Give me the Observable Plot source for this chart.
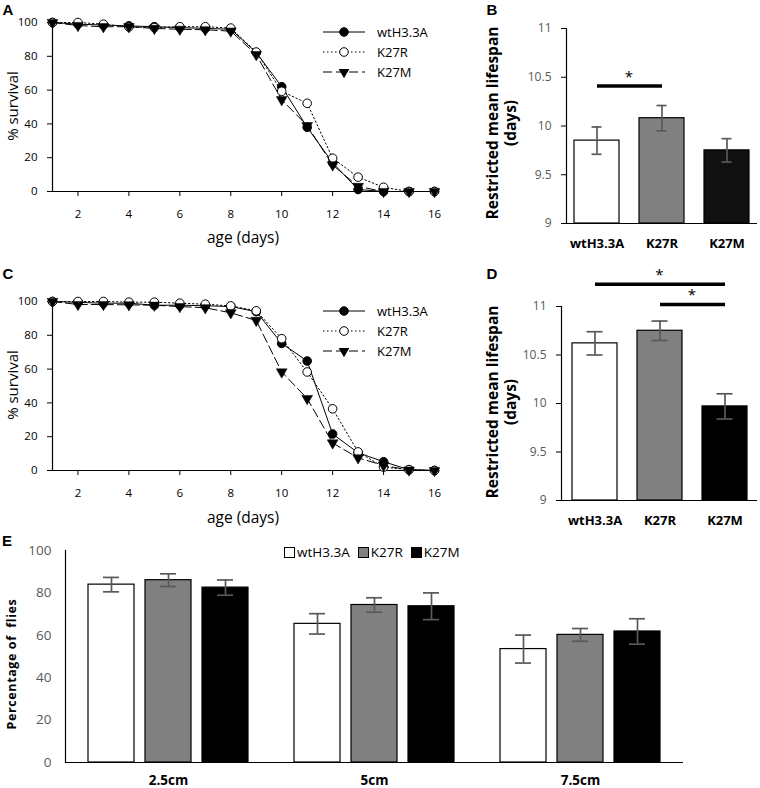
<!DOCTYPE html>
<html>
<head>
<meta charset="utf-8">
<script src="https://cdn.jsdelivr.net/npm/d3@7"></script>
<script src="https://cdn.jsdelivr.net/npm/@observablehq/plot@0.6"></script>
<style>
  html, body { margin: 0; padding: 0; background: #fff; }
  #root { position: relative; width: 760px; height: 788px; overflow: hidden; background: #fff; font-family: "Open Sans", sans-serif; color: #000; }
  .panel { position: absolute; }
  .panel svg { overflow: visible; display: block; }
  .ttl { position: absolute; white-space: nowrap; line-height: 1; transform: translate(-50%, -50%); }
  .rot { transform: translate(-50%, -50%) rotate(-90deg); }
  .plab { font-family: "Liberation Sans", Arial, sans-serif; font-weight: bold; font-size: 15px; }
  .elegend { position: absolute; left: 284px; top: 546px; display: flex; align-items: center; font-size: 13.5px; line-height: 1; }
  .elegend .sw { width: 9px; height: 9px; border: 1px solid #000; margin-right: 2px; }
  .elegend .it { display: flex; align-items: center; margin-right: 8px; }
</style>
</head>
<body>
<div id="root"></div>
<script>
// ---------------- data ----------------
const days = [1, 2, 3, 4, 5, 6, 7, 8, 9, 10, 11, 12, 13, 14, 15, 16];
const dayTicks = [2, 4, 6, 8, 10, 12, 14, 16];
const pctTicks = [0, 20, 40, 60, 80, 100];
const genotypes = ["wtH3.3A", "K27R", "K27M"];

// Panel A: % survival
const A_wt   = [100, 99, 98.5, 98, 97.5, 97, 96.5, 96, 82.3, 62, 38, 17, 1.2, 0, 0, 0];
const A_K27R = [100, 100, 99, 97.4, 97, 97.5, 97.5, 96.7, 82.5, 59.3, 52.2, 19.7, 8.5, 2.5, 0, 0];
const A_K27M = [100, 98.2, 97.5, 97.5, 96.5, 96, 95.7, 94.9, 81, 54.3, 39, 15.7, 3, 0, 0, 0];

// Panel C: % survival
const C_wt   = [100, 99.5, 99, 99, 97.8, 97.8, 97.5, 97, 94, 75.2, 64.8, 21.6, 10.5, 5.2, 0.5, 0];
const C_K27R = [100, 100, 100, 99.6, 99.6, 99, 98.4, 97.4, 94.5, 78, 58.3, 36.5, 11, 2, 0.5, 0];
const C_K27M = [100, 98.2, 98.2, 98, 97.8, 97, 96.3, 93.3, 88.8, 58.3, 42.6, 16.3, 7.5, 3, 0.3, 0];

// Panel B: restricted mean lifespan (days)
const B_mean = [9.85, 10.08, 9.75];
const B_err  = [0.14, 0.13, 0.12];
const B_sig  = [{from: "wtH3.3A", to: "K27R", y: 10.41, mark: "*"}];

// Panel D: restricted mean lifespan (days)
const D_mean = [10.62, 10.75, 9.97];
const D_err  = [0.12, 0.10, 0.13];
const D_sig  = [
  {from: "wtH3.3A", to: "K27M", y: 11.23, mark: "*"},
  {from: "K27R", to: "K27M", y: 11.02, mark: "*"}
];
const lifespanTicks = [9, 9.5, 10, 10.5, 11];

// Panel E: percentage of flies climbing
const distances = ["2.5cm", "5cm", "7.5cm"];
const E_wt   = [83.9, 65.4, 53.5];
const E_K27R = [86.0, 74.3, 60.2];
const E_K27M = [82.5, 73.7, 61.8];
const E_err_wt   = [3.4, 4.8, 6.6];
const E_err_K27R = [3.0, 3.4, 3.0];
const E_err_K27M = [3.6, 6.3, 6.0];

// ---------------- helpers ----------------
const root = document.getElementById("root");
function place(node, left, top) {
  const w = document.createElement("div");
  w.className = "panel";
  w.style.left = left + "px";
  w.style.top = top + "px";
  w.appendChild(node);
  root.appendChild(w);
}
function label(html, x, y, cls, css) {
  const d = document.createElement("div");
  d.className = "ttl " + (cls || "");
  d.innerHTML = html;
  d.style.left = x + "px";
  d.style.top = y + "px";
  Object.assign(d.style, css || {});
  root.appendChild(d);
  return d;
}
const baseStyle = {fontFamily: '"Open Sans", sans-serif', fontSize: "11.5px", color: "#000", background: "transparent", overflow: "visible"};

const seriesStyle = {
  "wtH3.3A": {dash: undefined, symbol: "circle", fill: "#000"},
  "K27R":    {dash: "1.5,2.5", symbol: "circle", fill: "#fff"},
  "K27M":    {dash: "9,4", symbol: "triangle", fill: "#000"}
};

function survivalPlot(series) {
  const marks = [
    Plot.ruleY([0], {stroke: "#000", strokeWidth: 1.2}),
    Plot.ruleX([1], {y1: 0, y2: 100, stroke: "#000", strokeWidth: 1.2}),
    Plot.axisX({ticks: dayTicks, tickSize: 5, tickPadding: 13, label: null, tickFormat: d => d}),
    Plot.axisY({ticks: pctTicks, tickSize: 5, tickPadding: 10, label: null})
  ];
  for (const [name, vals] of series) {
    const rows = days.map((d, i) => ({day: d, v: vals[i]}));
    const st = seriesStyle[name];
    marks.push(Plot.line(rows, {x: "day", y: "v", stroke: "#000", strokeWidth: 1, strokeDasharray: st.dash}));
    if (st.symbol === "triangle") {
      marks.push(Plot.dot(rows, {x: "day", y: "v", symbol: "triangle", rotate: 180, r: 4, fill: "#000", stroke: "#000", strokeWidth: 0.5}));
    } else {
      marks.push(Plot.dot(rows, {x: "day", y: "v", r: 4.3, fill: st.fill, stroke: "#000", strokeWidth: 1}));
    }
  }
  const p = Plot.plot({
    width: 460, height: 250,
    marginLeft: 52, marginRight: 26, marginTop: 22, marginBottom: 59,
    x: {domain: [1, 16]}, y: {domain: [0, 100]},
    style: baseStyle,
    marks
  });
  return p;
}
function survivalLegend(p, series, y0) {
  const g = d3.select(p).append("g").attr("font-size", 13).attr("font-family", '"Open Sans", sans-serif')
    .attr("text-anchor", "start");
  series.forEach(([name], i) => {
    const st = seriesStyle[name];
    const y = y0 + 20 * i;
    g.append("line").attr("x1", 323).attr("x2", 365).attr("y1", y).attr("y2", y)
      .attr("stroke", "#000").attr("stroke-width", 1).attr("stroke-dasharray", st.dash || null);
    if (st.symbol === "triangle") {
      g.append("path").attr("d", d3.symbol(d3.symbolTriangle, 50)()).attr("transform", `translate(344,${y}) rotate(180)`).attr("fill", "#000");
    } else {
      g.append("circle").attr("cx", 344).attr("cy", y).attr("r", 4.3).attr("fill", st.fill).attr("stroke", "#000");
    }
    g.append("text").attr("x", 377).attr("y", y).attr("dy", "0.35em").attr("text-anchor", "start").text(name);
  });
}

function barPanel({mean, err, sig, fills, width, height, mL, mR, mT, mB, padIn, padOut, capInset}) {
  const df = genotypes.map((g, i) => ({g, m: mean[i], e: err[i]}));
  const p = Plot.plot({
    width, height, marginLeft: mL, marginRight: mR, marginTop: mT, marginBottom: mB,
    x: {domain: genotypes, paddingInner: padIn, paddingOuter: padOut},
    y: {domain: [9, 11]},
    color: {domain: genotypes, range: fills},
    style: baseStyle,
    marks: [
      Plot.barY(df, {x: "g", y1: 9, y2: "m", fill: "g", stroke: "#000", strokeWidth: 1.2}),
      Plot.ruleX(df, {x: "g", y1: d => d.m - d.e, y2: d => d.m + d.e, stroke: "#595959", strokeWidth: 1.7}),
      Plot.tickY(df, {x: "g", y: d => d.m + d.e, insetLeft: capInset, insetRight: capInset, stroke: "#595959", strokeWidth: 1.7}),
      Plot.tickY(df, {x: "g", y: d => d.m - d.e, insetLeft: capInset, insetRight: capInset, stroke: "#595959", strokeWidth: 1.7}),
      Plot.ruleY([9], {stroke: "#000", strokeWidth: 1.2}),
      Plot.frame({anchor: "left", stroke: "#000", strokeWidth: 1.2}),
      Plot.axisY({ticks: lifespanTicks, tickSize: 5, tickPadding: 10, fill: "#595959", stroke: "#000", fontSize: 12, label: null, tickFormat: d => String(d)}),
      Plot.axisX({tickSize: 0, tickPadding: 15, fontWeight: "bold", fontSize: 13, label: null}),
      Plot.link(sig, {x1: "from", x2: "to", y1: "y", y2: "y", stroke: "#000", strokeWidth: 3.5})
    ]
  });
  const X = p.scale("x"), Y = p.scale("y");
  const c = g => X.apply(g) + X.bandwidth / 2;
  d3.select(p).append("g").attr("font-size", 15).attr("font-family", '"Open Sans", sans-serif')
    .selectAll("text").data(sig).join("text")
    .attr("x", b => (c(b.from) + c(b.to)) / 2)
    .attr("y", b => Y.apply(b.y) - 4)
    .attr("text-anchor", "middle")
    .text(b => b.mark);
  return p;
}

// ---------------- Panel A ----------------
const seriesA = [["wtH3.3A", A_wt], ["K27R", A_K27R], ["K27M", A_K27M]];
const pA = survivalPlot(seriesA);
survivalLegend(pA, seriesA, 32);
place(pA, 0, 0);

// ---------------- Panel C ----------------
const seriesC = [["wtH3.3A", C_wt], ["K27R", C_K27R], ["K27M", C_K27M]];
const pC = survivalPlot(seriesC);
survivalLegend(pC, seriesC, 32);
place(pC, 0, 279);

// ---------------- Panel B ----------------
const pB = barPanel({mean: B_mean, err: B_err, sig: B_sig, fills: ["#ffffff", "#808080", "#111111"],
  width: 300, height: 250, mL: 106, mR: 3, mT: 28, mB: 27, padIn: 0.31, padOut: 0.12, capInset: 17.5});
place(pB, 460, 0);

// ---------------- Panel D ----------------
const pD = barPanel({mean: D_mean, err: D_err, sig: D_sig, fills: ["#ffffff", "#808080", "#000000"],
  width: 300, height: 280, mL: 101, mR: 3, mT: 56, mB: 30, padIn: 0.31, padOut: 0.15, capInset: 14.5});
place(pD, 460, 250);

// ---------------- Panel E ----------------
const E_vals = {"wtH3.3A": E_wt, "K27R": E_K27R, "K27M": E_K27M};
const E_errs = {"wtH3.3A": E_err_wt, "K27R": E_err_K27R, "K27M": E_err_K27M};
const rowsE = [];
distances.forEach((d, j) => genotypes.forEach(g => rowsE.push({d, g, v: E_vals[g][j], e: E_errs[g][j]})));
const pE = Plot.plot({
  width: 760, height: 258, marginLeft: 64, marginRight: 77, marginTop: 20, marginBottom: 26,
  fx: {domain: distances, padding: 0, label: null},
  x: {domain: genotypes, paddingInner: 0.19, paddingOuter: 0.39, axis: null},
  y: {domain: [0, 100]},
  color: {domain: genotypes, range: ["#ffffff", "#808080", "#000000"]},
  style: baseStyle,
  marks: [
    Plot.barY(rowsE, {fx: "d", x: "g", y1: 0, y2: "v", fill: "g", stroke: "#000", strokeWidth: 1.2}),
    Plot.ruleX(rowsE, {fx: "d", x: "g", y1: d => d.v - d.e, y2: d => d.v + d.e, stroke: "#595959", strokeWidth: 1.7}),
    Plot.tickY(rowsE, {fx: "d", x: "g", y: d => d.v + d.e, insetLeft: 15, insetRight: 15, stroke: "#595959", strokeWidth: 1.7}),
    Plot.tickY(rowsE, {fx: "d", x: "g", y: d => d.v - d.e, insetLeft: 15, insetRight: 15, stroke: "#595959", strokeWidth: 1.7}),
    Plot.ruleY([0], {stroke: "#000", strokeWidth: 1.2}),
    Plot.frame({anchor: "left", facetAnchor: "left", stroke: "#000", strokeWidth: 1.2}),
    Plot.axisY({ticks: pctTicks, tickSize: 0, tickPadding: 14, fill: "#595959", fontSize: 13.5, label: null}),
    Plot.axisFx({anchor: "bottom", tickSize: 0, tickPadding: 13, fontWeight: "bold", fontSize: 13.5, label: null})
  ]
});
place(pE, 0, 530);

// ---------------- titles & labels ----------------
label("A", 8, 9, "plab");
label("B", 492, 9, "plab");
label("C", 8, 273, "plab");
label("D", 492, 273, "plab");
label("E", 7, 540, "plab");

label("% survival", 12, 106, "rot", {fontSize: "15px"});
label("age (days)", 243, 238, "", {fontSize: "15.5px"});
label("% survival", 12, 385, "rot", {fontSize: "15px"});
label("age (days)", 243, 518, "", {fontSize: "15.5px"});

const lifespanTitle = "Restricted mean lifespan<br>(days)";
label(lifespanTitle, 501, 123, "rot", {fontSize: "15.5px", fontWeight: "bold", textAlign: "center", lineHeight: "18px"});
label(lifespanTitle, 501, 402, "rot", {fontSize: "15.5px", fontWeight: "bold", textAlign: "center", lineHeight: "18px"});

label("Percentage of&nbsp; flies", 12, 664, "rot", {fontSize: "12.5px", fontWeight: "bold", letterSpacing: "0.6px"});

// Panel E legend
const leg = document.createElement("div");
leg.className = "elegend";
const legFills = ["#ffffff", "#808080", "#000000"];
genotypes.forEach((g, i) => {
  const it = document.createElement("div");
  it.className = "it";
  const sw = document.createElement("div");
  sw.className = "sw";
  sw.style.background = legFills[i];
  it.appendChild(sw);
  const t = document.createElement("span");
  t.textContent = g;
  it.appendChild(t);
  leg.appendChild(it);
});
root.appendChild(leg);
</script>
</body>
</html>
